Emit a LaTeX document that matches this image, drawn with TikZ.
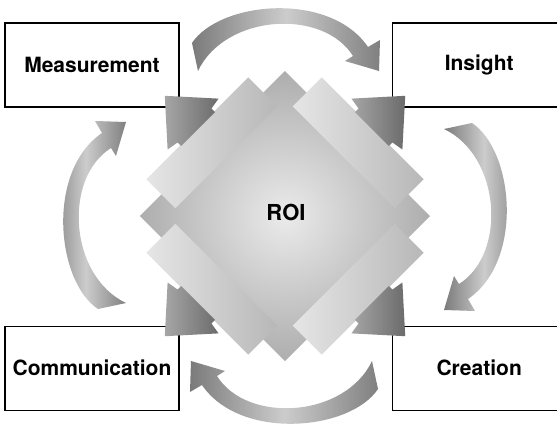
\documentclass[tikz,border=0pt]{standalone}
\usepackage{fontspec}
\setmainfont{TeX Gyre Heros}
\usetikzlibrary{positioning}
\tikzset{
    stageBox/.style={rectangle, draw=black, line width=1.2pt, minimum width=174pt, minimum height=84pt, text centered, font=\bfseries\fontsize{21pt}{24pt}\selectfont},
    roiLabel/.style={font=\bfseries\fontsize{22pt}{26pt}\selectfont},
    loopShade/.style={left color=black!52, right color=black!50, middle color=black!20},
    barShade/.style={left color=black!10, right color=black!28},
    headShade/.style={left color=black!35, right color=black!58},
    coreShade/.style={inner color=black!8, outer color=black!32}
}
% one curved arrow, drawn for the top (Measurement -> Insight)
\newcommand{\loopArrow}{(-93,173) .. controls (-65,215) and (45,225) .. (83,169) -- (95,176) -- (94,145) -- (60,155) -- (68,160) .. controls (38,208) and (-60,202) .. (-87,145) -- cycle}
% one bar with its arrow head, pointing along x
\newcommand{\roiPart}[1]{%
    \begin{scope}[rotate=#1]
        \shade[barShade] (83,-72) rectangle (124,72);
        \shade[headShade] (123,-24) -- (128,-24) -- (130,-36) -- (170,0) -- (130,36) -- (128,24) -- (123,24) -- cycle;
    \end{scope}}

\begin{document}
\begin{tikzpicture}[x=1pt, y=1pt]
    \useasboundingbox (-285,-210) rectangle (272,216);

    \node (meas) [stageBox] at (-193,151) {Measurement};
    \node (ins) [stageBox, right=212pt of meas] {Insight};
    \node (comm) [stageBox, below=218pt of meas] {Communication};
    \node (crea) [stageBox, below=218pt of ins] {Creation};

    \shade[loopShade] \loopArrow;
    \begin{scope}[shift={(14,0)}, rotate=-90]
        \shade[loopShade] \loopArrow;
    \end{scope}
    \begin{scope}[rotate=180]
        \shade[loopShade] \loopArrow;
    \end{scope}
    \begin{scope}[shift={(-14,0)}, rotate=90]
        \shade[loopShade] \loopArrow;
    \end{scope}

    \shade[coreShade] (0,145) -- (145,0) -- (0,-145) -- (-145,0) -- cycle;
    \roiPart{135}
    \roiPart{45}
    \roiPart{-45}
    \roiPart{-135}
    \node (roi) [roiLabel] at (1,4) {ROI};
\end{tikzpicture}
\end{document}
